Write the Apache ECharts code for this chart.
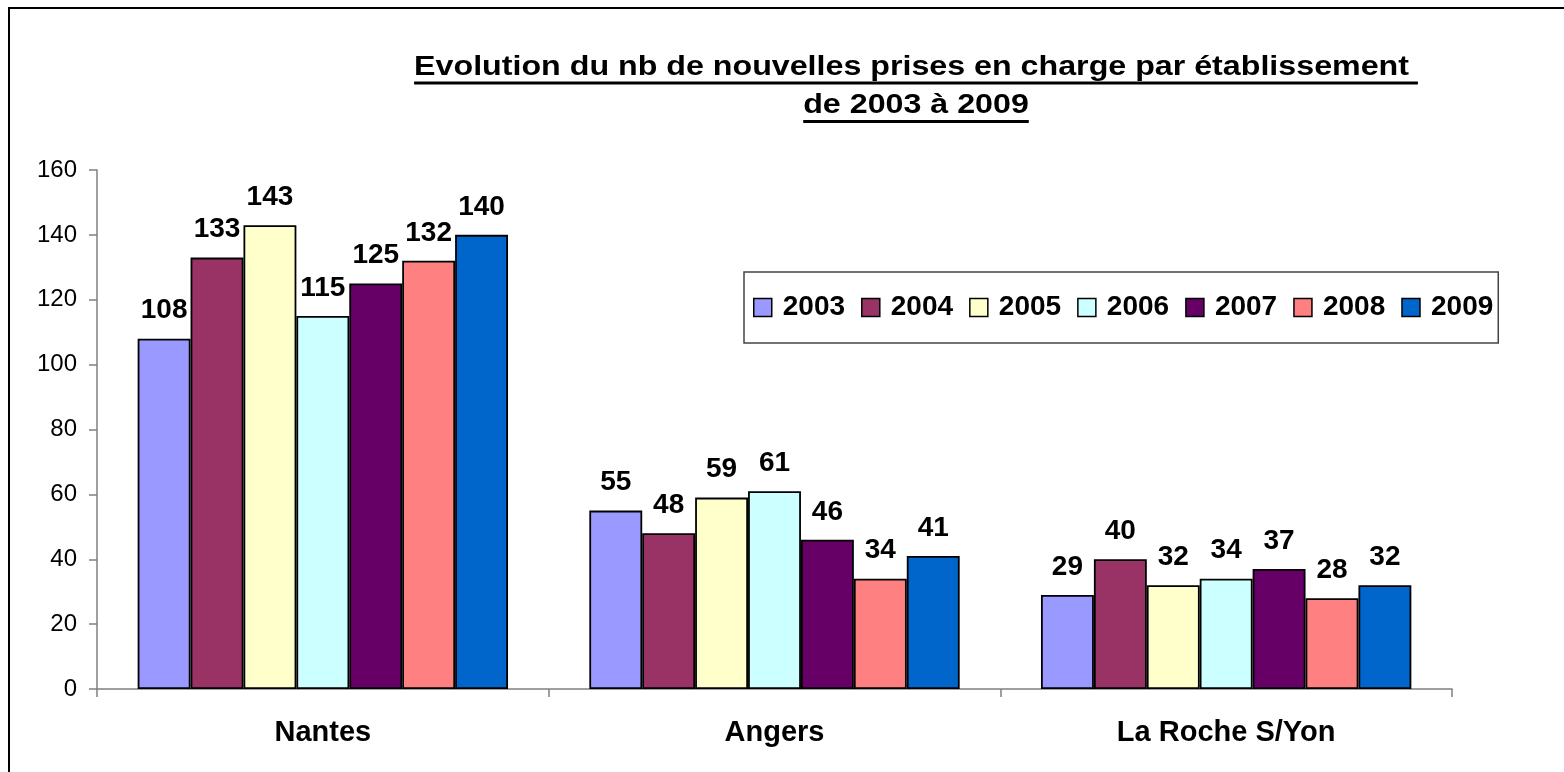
<!DOCTYPE html>
<html>
<head>
<meta charset="utf-8">
<script src="https://cdn.jsdelivr.net/npm/echarts@6/dist/echarts.min.js"></script>
<style>
html,body{margin:0;padding:0;background:#fff;}
#chart{width:1564px;height:772px;}
</style>
</head>
<body>
<div id="chart"></div>
<script>
var categories = ['Nantes', 'Angers', 'La Roche S/Yon'];
var years = ['2003', '2004', '2005', '2006', '2007', '2008', '2009'];
var v2003 = [108, 55, 29];
var v2004 = [133, 48, 40];
var v2005 = [143, 59, 32];
var v2006 = [115, 61, 34];
var v2007 = [125, 46, 37];
var v2008 = [132, 34, 28];
var v2009 = [140, 41, 32];
var seriesValues = [v2003, v2004, v2005, v2006, v2007, v2008, v2009];
var colors = ['#9999FF', '#993366', '#FFFFCC', '#CCFFFF', '#660066', '#FF8080', '#0066CC'];
var titleLine1 = 'Evolution du nb de nouvelles prises en charge par établissement ';
var titleLine2 = 'de 2003 à 2009';

var FONT = '"Liberation Sans", Arial, sans-serif';
var titleFont = 'bold 28px ' + FONT;
var titleScaleX = 1.15;
var mc = document.createElement('canvas').getContext('2d');
mc.font = titleFont;
var w1 = mc.measureText(titleLine1).width * titleScaleX;
var w2 = mc.measureText(titleLine2).width * titleScaleX;
var cx = 916;

var chart = echarts.init(document.getElementById('chart'));
var series = years.map(function (y, i) {
  return {
    name: y,
    type: 'bar',
    data: seriesValues[i],
    barGap: '0%',
    barCategoryGap: '18%',
    itemStyle: { color: colors[i], borderColor: '#000', borderWidth: 1.8 },
    label: {
      show: true, position: 'top', distance: 14,
      color: '#000', fontWeight: 'bold', fontSize: 28, fontFamily: FONT
    }
  };
});

chart.setOption({
  animation: false,
  color: colors,
  grid: { left: 97, right: 112, top: 170, bottom: 83, containLabel: false },
  legend: {
    data: years,
    orient: 'horizontal',
    left: 744, top: 272,
    padding: [20, 5, 20, 9],
    itemGap: 16,
    itemWidth: 18, itemHeight: 18,
    icon: 'rect',
    borderColor: '#444', borderWidth: 1.5, backgroundColor: '#fff',
    itemStyle: { borderColor: '#000', borderWidth: 1.5 },
    textStyle: { color: '#000', fontWeight: 'bold', fontSize: 28, fontFamily: FONT, lineHeight: 31, padding: [0, 0, 0, 6] }
  },
  xAxis: {
    type: 'category',
    data: categories,
    axisLine: { lineStyle: { color: '#808080', width: 1.5 } },
    axisTick: { show: true, length: 8, lineStyle: { color: '#808080', width: 1.5 } },
    axisLabel: { color: '#000', fontWeight: 'bold', fontSize: 29, fontFamily: FONT, margin: 29 }
  },
  yAxis: {
    type: 'value',
    min: 0, max: 160, interval: 20,
    axisLine: { show: true, lineStyle: { color: '#808080', width: 1.5 } },
    axisTick: { show: true, length: 8, lineStyle: { color: '#808080', width: 1.5 } },
    splitLine: { show: false },
    axisLabel: { color: '#000', fontSize: 24, fontFamily: FONT, margin: 20 }
  },
  graphic: [
    { type: 'rect', silent: true, shape: { x: 9, y: 8, width: 1700, height: 900 },
      style: { fill: 'none', stroke: '#000', lineWidth: 2 } },
    { type: 'text', x: cx, y: 67.5, scaleX: titleScaleX, style: { text: titleLine1, font: titleFont, fill: '#000', align: 'center', verticalAlign: 'middle' } },
    { type: 'text', x: cx, y: 105.5, scaleX: titleScaleX, style: { text: titleLine2, font: titleFont, fill: '#000', align: 'center', verticalAlign: 'middle' } },
    { type: 'line', shape: { x1: cx - w1 / 2, y1: 83, x2: cx + w1 / 2, y2: 83 }, style: { stroke: '#000', lineWidth: 3 } },
    { type: 'line', shape: { x1: cx - w2 / 2, y1: 121.5, x2: cx + w2 / 2, y2: 121.5 }, style: { stroke: '#000', lineWidth: 3 } }
  ],
  series: series
});
</script>
</body>
</html>
